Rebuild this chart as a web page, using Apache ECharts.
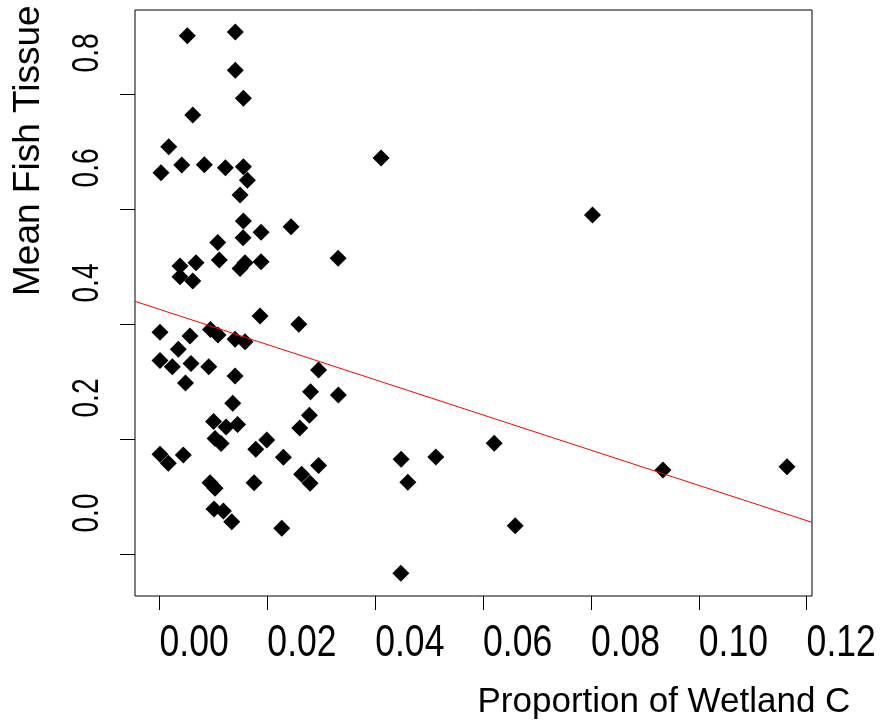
<!DOCTYPE html>
<html><head><meta charset="utf-8">
<script src="https://cdn.jsdelivr.net/npm/echarts@6/dist/echarts.min.js"></script>
<style>html,body{margin:0;padding:0;background:#fff}#c{width:883px;height:723px}</style>
</head><body><div id="c"></div>
<script>
// Proportion of wetland cover (x) and mean fish tissue value (y)
const wetlandProportion = [
  0.00516, 0.01406, 0.01406, 0.01555, 0.00616, 0.00171, 0.00028, 0.00412, 0.00831, 0.01221,
  0.01555, 0.01629, 0.01494, 0.04109, 0.01555, 0.01883, 0.02440, 0.01080, 0.01549, 0.00380,
  0.00677, 0.01109, 0.01494, 0.01586, 0.01883, 0.03312, 0.00380, 0.00616, 0.01865, 0.02583,
  0.00009, 0.00566, 0.00946, 0.01085, 0.01401, 0.01586, 0.00349, 0.00009, 0.00237, 0.00584,
  0.00913, 0.01401, 0.00482, 0.02950, 0.02801, 0.03317, 0.01358, 0.02779, 0.02601, 0.01002,
  0.01234, 0.01447, 0.01030, 0.01141, 0.01989, 0.01785, 0.02297, 0.00009, 0.00163, 0.00442,
  0.02950, 0.02635, 0.02792, 0.00937, 0.01030, 0.01753, 0.01011, 0.01184, 0.01340, 0.02267,
  0.08030, 0.06206, 0.04481, 0.05124, 0.04605, 0.09336, 0.11636, 0.06596, 0.04475
];
const fishTissue = [
  0.9014, 0.9078, 0.8412, 0.7925, 0.7635, 0.7083, 0.6631, 0.6765, 0.6770, 0.6718,
  0.6736, 0.6499, 0.6243, 0.6887, 0.5791, 0.5595, 0.5692, 0.5417, 0.5501, 0.5009,
  0.5066, 0.5113, 0.4965, 0.5066, 0.5083, 0.5143, 0.4823, 0.4748, 0.4139, 0.3995,
  0.3856, 0.3791, 0.3904, 0.3809, 0.3734, 0.3692, 0.3560, 0.3365, 0.3257, 0.3313,
  0.3257, 0.3096, 0.2974, 0.3200, 0.2823, 0.2765, 0.2621, 0.2412, 0.2191, 0.2304,
  0.2209, 0.2252, 0.2009, 0.1922, 0.1983, 0.1821, 0.1682, 0.1734, 0.1577, 0.1722,
  0.1539, 0.1386, 0.1230, 0.1240, 0.1143, 0.1240, 0.0783, 0.0748, 0.0562, 0.0447,
  0.5896, 0.1925, 0.1647, 0.1687, 0.1247, 0.1461, 0.1518, 0.0492, -0.0336
];
const xTicks = [0, 0.02, 0.04, 0.06, 0.08, 0.10, 0.12];
const yTicks = [0, 0.2, 0.4, 0.6, 0.8];
const fitIntercept = 0.4255;
const fitSlope = -3.061;
const xRange = [-0.004545, 0.1210];
const yRange = [-0.0730, 0.9461];
const xTitle = 'Proportion of Wetland C';
const yTitle = 'Mean Fish Tissue';

const points = wetlandProportion.map((x, i) => [x, fishTissue[i]]);
const fitLine = xRange.map(x => [x, fitIntercept + fitSlope * x]);

const regular = "'Liberation Sans', Arial, sans-serif";

const chart = echarts.init(document.getElementById('c'), null, {renderer: 'canvas'});
chart.setOption({
  animation: false,
  backgroundColor: '#fff',
  grid: {left: 135, right: 71, top: 10, bottom: 127, show: true, borderColor: '#000', borderWidth: 1,
         backgroundColor: 'transparent', containLabel: false, outerBoundsMode: 'none'},
  xAxis: {
    type: 'value', min: xRange[0], max: xRange[1],
    name: xTitle, nameLocation: 'middle', nameGap: 89,
    nameTextStyle: {fontFamily: regular, fontSize: 35, color: '#000', align: 'left', padding: [0, 0, 0, 4]},
    axisLine: {show: false, onZero: false},
    splitLine: {show: false},
    axisTick: {show: true, inside: false, length: 14, customValues: xTicks, lineStyle: {color: '#000', width: 1}},
    axisLabel: {show: false}
  },
  yAxis: {
    type: 'value', min: yRange[0], max: yRange[1],
    name: yTitle, nameLocation: 'middle', nameGap: 88, nameRotate: 90,
    nameTextStyle: {fontFamily: regular, fontSize: 37, color: '#000', align: 'left', padding: [0, 0, 0, 7]},
    axisLine: {show: false, onZero: false},
    splitLine: {show: false},
    axisTick: {show: true, inside: false, length: 15, customValues: yTicks, lineStyle: {color: '#000', width: 1}},
    axisLabel: {show: false}
  },
  series: [
    {type: 'scatter', data: points, symbol: 'diamond', symbolSize: 17, itemStyle: {color: '#000', opacity: 1}, z: 3},
    {type: 'line', data: fitLine, symbol: 'none', lineStyle: {color: '#ff0000', width: 1, opacity: 1}, z: 4}
  ]
});

// Tick labels: condensed text (as in the reference), placed from the axis scale
const labels = [];
xTicks.forEach(v => {
  const p = chart.convertToPixel({gridIndex: 0}, [v, 0]);
  labels.push({type: 'text', x: p[0], y: 644, scaleX: 0.79, z: 10,
    style: {text: v.toFixed(2), font: '45px ' + regular, fill: '#000', align: 'left', verticalAlign: 'middle'}});
});
yTicks.forEach(v => {
  const p = chart.convertToPixel({gridIndex: 0}, [0, v]);
  labels.push({type: 'text', x: 88, y: p[1] - 21.5, rotation: Math.PI / 2, scaleX: 0.76, z: 10,
    style: {text: v.toFixed(1), font: '37px ' + regular, fill: '#000', align: 'left', verticalAlign: 'middle'}});
});
chart.setOption({graphic: {elements: labels}});
</script></body></html>
